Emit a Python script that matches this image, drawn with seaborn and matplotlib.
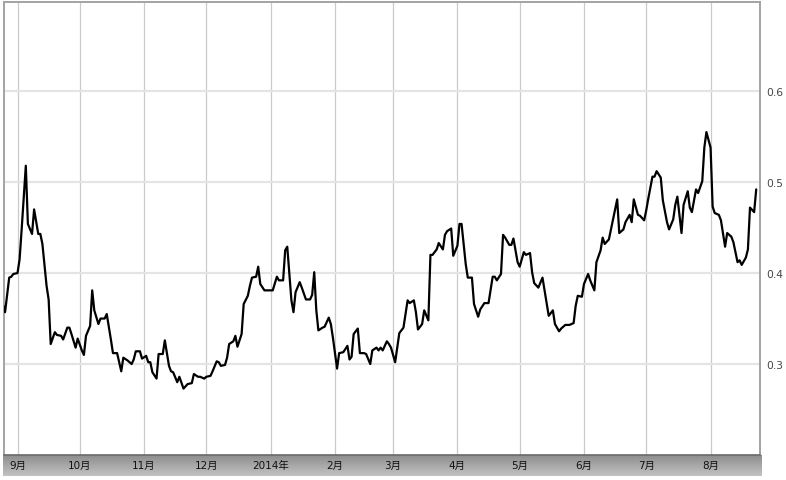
import numpy as np
import pandas as pd
import matplotlib
matplotlib.use("Agg")
import matplotlib.pyplot as plt
import matplotlib.dates as mdates
from matplotlib.colors import LinearSegmentedColormap
import seaborn as sns

# ---------------- data ----------------
dates = [
    "2013-08-25", "2013-08-26", "2013-08-28", "2013-08-29", "2013-08-30", "2013-09-01", "2013-09-02",
    "2013-09-03", "2013-09-05", "2013-09-06", "2013-09-08", "2013-09-09", "2013-09-11", "2013-09-12",
    "2013-09-13", "2013-09-15", "2013-09-16", "2013-09-17", "2013-09-19", "2013-09-20", "2013-09-22",
    "2013-09-23", "2013-09-25", "2013-09-26", "2013-09-27", "2013-09-29", "2013-09-30", "2013-10-02",
    "2013-10-03", "2013-10-04", "2013-10-06", "2013-10-07", "2013-10-08", "2013-10-10", "2013-10-11",
    "2013-10-13", "2013-10-14", "2013-10-16", "2013-10-17", "2013-10-19", "2013-10-21", "2013-10-22",
    "2013-10-24", "2013-10-26", "2013-10-27", "2013-10-28", "2013-10-30", "2013-10-31", "2013-11-02",
    "2013-11-03", "2013-11-04", "2013-11-05", "2013-11-07", "2013-11-08", "2013-11-10", "2013-11-11",
    "2013-11-13", "2013-11-14", "2013-11-15", "2013-11-17", "2013-11-18", "2013-11-20", "2013-11-22",
    "2013-11-24", "2013-11-25", "2013-11-27", "2013-11-28", "2013-11-30", "2013-12-01", "2013-12-03",
    "2013-12-04", "2013-12-06", "2013-12-07", "2013-12-08", "2013-12-10", "2013-12-11", "2013-12-12",
    "2013-12-14", "2013-12-15", "2013-12-16", "2013-12-18", "2013-12-19", "2013-12-21", "2013-12-22",
    "2013-12-23", "2013-12-25", "2013-12-26", "2013-12-27", "2013-12-29", "2013-12-30", "2014-01-01",
    "2014-01-02", "2014-01-04", "2014-01-05", "2014-01-07", "2014-01-08", "2014-01-09", "2014-01-11",
    "2014-01-12", "2014-01-13", "2014-01-15", "2014-01-16", "2014-01-18", "2014-01-20", "2014-01-21",
    "2014-01-22", "2014-01-23", "2014-01-24", "2014-01-26", "2014-01-27", "2014-01-29", "2014-01-30",
    "2014-01-31", "2014-02-02", "2014-02-03", "2014-02-05", "2014-02-07", "2014-02-08", "2014-02-09",
    "2014-02-10", "2014-02-12", "2014-02-13", "2014-02-15", "2014-02-16", "2014-02-18", "2014-02-19",
    "2014-02-21", "2014-02-22", "2014-02-23", "2014-02-24", "2014-02-26", "2014-02-27", "2014-02-28",
    "2014-03-02", "2014-03-04", "2014-03-06", "2014-03-08", "2014-03-09", "2014-03-11", "2014-03-12",
    "2014-03-13", "2014-03-15", "2014-03-16", "2014-03-18", "2014-03-19", "2014-03-20", "2014-03-22",
    "2014-03-23", "2014-03-25", "2014-03-26", "2014-03-27", "2014-03-29", "2014-03-30", "2014-04-01",
    "2014-04-02", "2014-04-03", "2014-04-05", "2014-04-06", "2014-04-08", "2014-04-09", "2014-04-11",
    "2014-04-12", "2014-04-14", "2014-04-15", "2014-04-16", "2014-04-18", "2014-04-19", "2014-04-20",
    "2014-04-22", "2014-04-23", "2014-04-24", "2014-04-26", "2014-04-27", "2014-04-28", "2014-04-30",
    "2014-05-01", "2014-05-03", "2014-05-04", "2014-05-06", "2014-05-07", "2014-05-08", "2014-05-10",
    "2014-05-12", "2014-05-13", "2014-05-15", "2014-05-17", "2014-05-18", "2014-05-20", "2014-05-21",
    "2014-05-23", "2014-05-25", "2014-05-27", "2014-05-28", "2014-05-29", "2014-05-31", "2014-06-01",
    "2014-06-03", "2014-06-04", "2014-06-06", "2014-06-07", "2014-06-09", "2014-06-10", "2014-06-11",
    "2014-06-13", "2014-06-14", "2014-06-16", "2014-06-17", "2014-06-18", "2014-06-20", "2014-06-21",
    "2014-06-23", "2014-06-24", "2014-06-25", "2014-06-27", "2014-06-28", "2014-06-30", "2014-07-01",
    "2014-07-02", "2014-07-04", "2014-07-05", "2014-07-06", "2014-07-08", "2014-07-09", "2014-07-11",
    "2014-07-12", "2014-07-14", "2014-07-15", "2014-07-16", "2014-07-18", "2014-07-19", "2014-07-21",
    "2014-07-22", "2014-07-23", "2014-07-25", "2014-07-26", "2014-07-28", "2014-07-29", "2014-07-30",
    "2014-08-01", "2014-08-02", "2014-08-03", "2014-08-05", "2014-08-06", "2014-08-08", "2014-08-09",
    "2014-08-11", "2014-08-12", "2014-08-14", "2014-08-15", "2014-08-16", "2014-08-18", "2014-08-19",
    "2014-08-20", "2014-08-22", "2014-08-23",
]

values = [
    0.365, 0.357, 0.395, 0.396, 0.399, 0.400, 0.415,
    0.448, 0.518, 0.454, 0.443, 0.470, 0.443, 0.443,
    0.432, 0.386, 0.371, 0.322, 0.335, 0.332, 0.331,
    0.327, 0.340, 0.340, 0.333, 0.318, 0.328, 0.315,
    0.310, 0.331, 0.342, 0.381, 0.359, 0.344, 0.350,
    0.350, 0.355, 0.327, 0.312, 0.312, 0.292, 0.307,
    0.304, 0.300, 0.305, 0.314, 0.314, 0.306, 0.309,
    0.302, 0.302, 0.291, 0.284, 0.311, 0.311, 0.326,
    0.298, 0.292, 0.291, 0.280, 0.286, 0.273, 0.278,
    0.279, 0.289, 0.286, 0.286, 0.284, 0.286, 0.287,
    0.292, 0.303, 0.302, 0.298, 0.299, 0.307, 0.322,
    0.325, 0.331, 0.319, 0.333, 0.366, 0.375, 0.386,
    0.395, 0.396, 0.407, 0.388, 0.381, 0.381, 0.381,
    0.381, 0.396, 0.392, 0.392, 0.425, 0.429, 0.370,
    0.357, 0.379, 0.390, 0.384, 0.371, 0.371, 0.376,
    0.401, 0.359, 0.337, 0.340, 0.341, 0.351, 0.344,
    0.329, 0.295, 0.312, 0.313, 0.320, 0.305, 0.308,
    0.333, 0.339, 0.312, 0.312, 0.311, 0.300, 0.315,
    0.318, 0.315, 0.318, 0.315, 0.325, 0.322, 0.318,
    0.302, 0.334, 0.340, 0.370, 0.367, 0.370, 0.357,
    0.338, 0.344, 0.359, 0.348, 0.420, 0.420, 0.426,
    0.433, 0.426, 0.442, 0.446, 0.449, 0.419, 0.430,
    0.454, 0.454, 0.410, 0.395, 0.395, 0.366, 0.352,
    0.360, 0.367, 0.367, 0.367, 0.396, 0.396, 0.392,
    0.399, 0.442, 0.439, 0.431, 0.431, 0.438, 0.412,
    0.407, 0.423, 0.420, 0.422, 0.401, 0.389, 0.384,
    0.395, 0.381, 0.353, 0.359, 0.344, 0.336, 0.339,
    0.343, 0.343, 0.345, 0.364, 0.375, 0.374, 0.388,
    0.399, 0.392, 0.381, 0.412, 0.425, 0.439, 0.432,
    0.437, 0.448, 0.470, 0.481, 0.444, 0.448, 0.456,
    0.464, 0.456, 0.481, 0.464, 0.463, 0.458, 0.469,
    0.482, 0.506, 0.506, 0.512, 0.505, 0.480, 0.456,
    0.448, 0.459, 0.475, 0.484, 0.444, 0.475, 0.490,
    0.472, 0.467, 0.492, 0.488, 0.501, 0.538, 0.555,
    0.538, 0.473, 0.466, 0.464, 0.458, 0.429, 0.444,
    0.440, 0.434, 0.412, 0.414, 0.409, 0.417, 0.426,
    0.472, 0.467, 0.492,
]

month_ticks = ["2013-09-01", "2013-10-01", "2013-11-01", "2013-12-01", "2014-01-01", "2014-02-01",
               "2014-03-01", "2014-04-01", "2014-05-01", "2014-06-01", "2014-07-01", "2014-08-01"]
month_labels = ["9月", "10月", "11月", "12月", "2014年", "2月", "3月", "4月", "5月", "6月", "7月", "8月"]
y_ticks = [0.3, 0.4, 0.5, 0.6]
y_labels = ["0.3", "0.4", "0.5", "0.6"]

df = pd.DataFrame({"date": pd.to_datetime(dates), "value": values})

# ---------------- style ----------------
sns.set_style("white")
plt.rcParams["font.family"] = ["DejaVu Sans", "Noto Sans CJK JP"]

W, H = 786, 481
fig = plt.figure(figsize=(W / 100, H / 100), dpi=100)

# plot area
ax_left, ax_right, ax_top, ax_bottom = 3.5, 759.5, 3.0, 456.0
ax = fig.add_axes([ax_left / W, 1 - ax_bottom / H, (ax_right - ax_left) / W, (ax_bottom - ax_top) / H])
ax.set_zorder(2)

# bottom gray band (behind the main axes)
band = fig.add_axes([3.0 / W, 1 - 477.0 / H, (762.0 - 3.0) / W, (477.0 - 456.0) / H])
band.set_zorder(1)
cmap = LinearSegmentedColormap.from_list("band", ["#8e8e8e", "#c2c2c2"])
grad = np.linspace(0, 1, 64).reshape(-1, 1)
band.imshow(grad, aspect="auto", cmap=cmap, extent=[0, 1, 0, 1], origin="upper")
band.set_xlim(0, 1)
band.set_ylim(0, 1)
band.axis("off")

sns.lineplot(data=df, x="date", y="value", ax=ax, color="black", linewidth=1.6, zorder=5)

ax.set_xlim(pd.Timestamp("2013-08-25 06:00"), pd.Timestamp("2014-08-24 14:00"))
ax.set_ylim(0.2, 0.698)

ax.set_xticks(pd.to_datetime(month_ticks))
ax.set_xticklabels(month_labels)
ax.set_yticks(y_ticks)
ax.set_yticklabels(y_labels)

ax.yaxis.tick_right()
ax.tick_params(axis="x", length=0, pad=3.5, labelsize=7.5, labelcolor="#111111")
ax.tick_params(axis="y", length=0, pad=4.5, labelsize=7.7, labelcolor="#444444")

ax.set_xlabel("")
ax.set_ylabel("")

# grid
ax.grid(False)
ax.xaxis.grid(True, color="#cacaca", linewidth=0.9)
ax.yaxis.grid(True, color="#e4e4e4", linewidth=1.6)
ax.set_axisbelow(True)

for side in ["left", "top", "right"]:
    ax.spines[side].set_visible(True)
    ax.spines[side].set_color("#a3a3a3")
    ax.spines[side].set_linewidth(1.4)
ax.spines["bottom"].set_color("#6a6a6a")
ax.spines["bottom"].set_linewidth(1.2)

fig.savefig("out.png", dpi=100)
